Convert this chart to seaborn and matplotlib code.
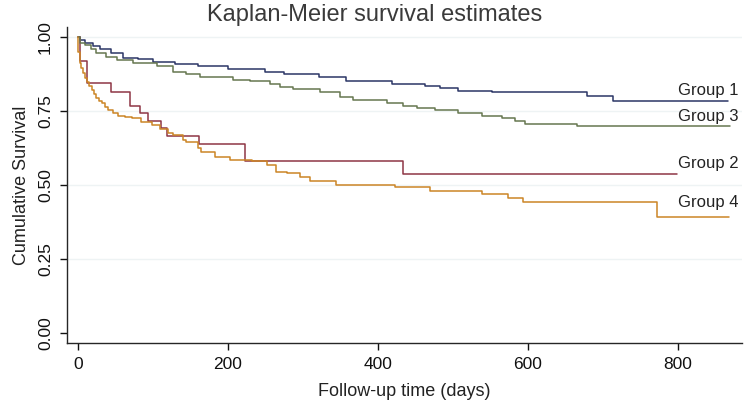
import numpy as np
import pandas as pd
import seaborn as sns
import matplotlib.pyplot as plt

# Kaplan-Meier step points (day, survival)
g1_days = [0, 3, 10, 20, 30, 45, 60, 80, 100, 130, 160, 200, 250, 275, 322, 358, 419, 463, 483, 507, 552, 679, 714, 867]
g1_surv = [1.0, 0.99, 0.98, 0.97, 0.96, 0.945, 0.93, 0.925, 0.917, 0.91, 0.903, 0.893, 0.883, 0.875, 0.864, 0.852, 0.843, 0.833, 0.827, 0.818, 0.813, 0.80, 0.785, 0.785]

g2_days = [0, 3, 12, 45, 70, 83, 94, 111, 119, 162, 223, 434, 799]
g2_surv = [1.0, 0.92, 0.846, 0.815, 0.767, 0.744, 0.718, 0.692, 0.667, 0.638, 0.582, 0.537, 0.537]

g3_days = [0, 3, 10, 18, 25, 38, 52, 74, 106, 127, 145, 163, 207, 230, 256, 270, 287, 323, 350, 367, 412, 434, 452, 476, 507, 539, 566, 583, 596, 666, 870]
g3_surv = [1.0, 0.98, 0.973, 0.958, 0.945, 0.932, 0.922, 0.913, 0.903, 0.883, 0.874, 0.866, 0.855, 0.85, 0.843, 0.832, 0.823, 0.815, 0.798, 0.789, 0.776, 0.767, 0.759, 0.753, 0.742, 0.733, 0.725, 0.717, 0.706, 0.70, 0.70]

g4_days = [0, 1, 3, 5, 7, 10, 12, 15, 19, 22, 25, 29, 32, 36, 40, 47, 54, 63, 72, 85, 99, 110, 120, 127, 140, 145, 160, 165, 183, 203, 233, 253, 265, 279, 296, 310, 345, 423, 470, 539, 574, 594, 772, 868]
g4_surv = [1.0, 0.95, 0.911, 0.895, 0.878, 0.862, 0.849, 0.835, 0.821, 0.807, 0.793, 0.785, 0.776, 0.764, 0.753, 0.742, 0.733, 0.729, 0.725, 0.714, 0.703, 0.689, 0.675, 0.669, 0.652, 0.646, 0.624, 0.613, 0.596, 0.584, 0.581, 0.568, 0.545, 0.54, 0.526, 0.515, 0.50, 0.492, 0.481, 0.47, 0.458, 0.443, 0.393, 0.393]

groups = ["Group 1", "Group 2", "Group 3", "Group 4"]
colors = ["#2b3566", "#8e3645", "#66774f", "#cc8526"]

frames = []
for name, d, s in zip(groups, [g1_days, g2_days, g3_days, g4_days], [g1_surv, g2_surv, g3_surv, g4_surv]):
    frames.append(pd.DataFrame({"time": d, "surv": s, "group": name}))
km = pd.concat(frames, ignore_index=True)

sns.set_style("ticks")
plt.rcParams['font.family'] = ['Liberation Sans', 'DejaVu Sans']

fig = plt.figure(figsize=(7.5, 4.09), dpi=100)
ax = fig.add_axes([0.0893, 0.161, 0.9, 0.773])

for y in [0.25, 0.5, 0.75, 1.0]:
    ax.axhline(y, color="#eef3f4", lw=1.0, zorder=0)

sns.lineplot(data=km, x="time", y="surv", hue="group", palette=dict(zip(groups, colors)),
             drawstyle="steps-post", estimator=None, legend=False, lw=1.1, ax=ax)

# labels at the end of each curve
label_y = [0.821, 0.73, 0.574, 0.44]
for name, y in zip(["Group 1", "Group 3", "Group 2", "Group 4"], label_y):
    ax.text(800, y, name, fontsize=12, color="#222222", ha="left", va="center")

ax.set_xlim(-14.3, 885.7)
ax.set_ylim(-0.034, 1.034)
ax.set_xticks([0, 200, 400, 600, 800])
ax.set_yticks([0, 0.25, 0.5, 0.75, 1.0])
ax.set_yticklabels(["0.00", "0.25", "0.50", "0.75", "1.00"], rotation=90, va="center")
ax.tick_params(labelsize=12.5, length=5, width=1, colors="#111111", pad=5)
sns.despine(ax=ax)
ax.spines["left"].set_linewidth(1.0)
ax.spines["bottom"].set_linewidth(1.0)

ax.set_xlabel("Follow-up time (days)", fontsize=13, color="#222222", labelpad=8)
ax.set_ylabel("Cumulative Survival", fontsize=13, color="#222222", labelpad=6)
fig.suptitle("Kaplan-Meier survival estimates", fontsize=17, color="#3a3a3a", y=0.99, va="top")

plt.savefig("out.png", dpi=100)
